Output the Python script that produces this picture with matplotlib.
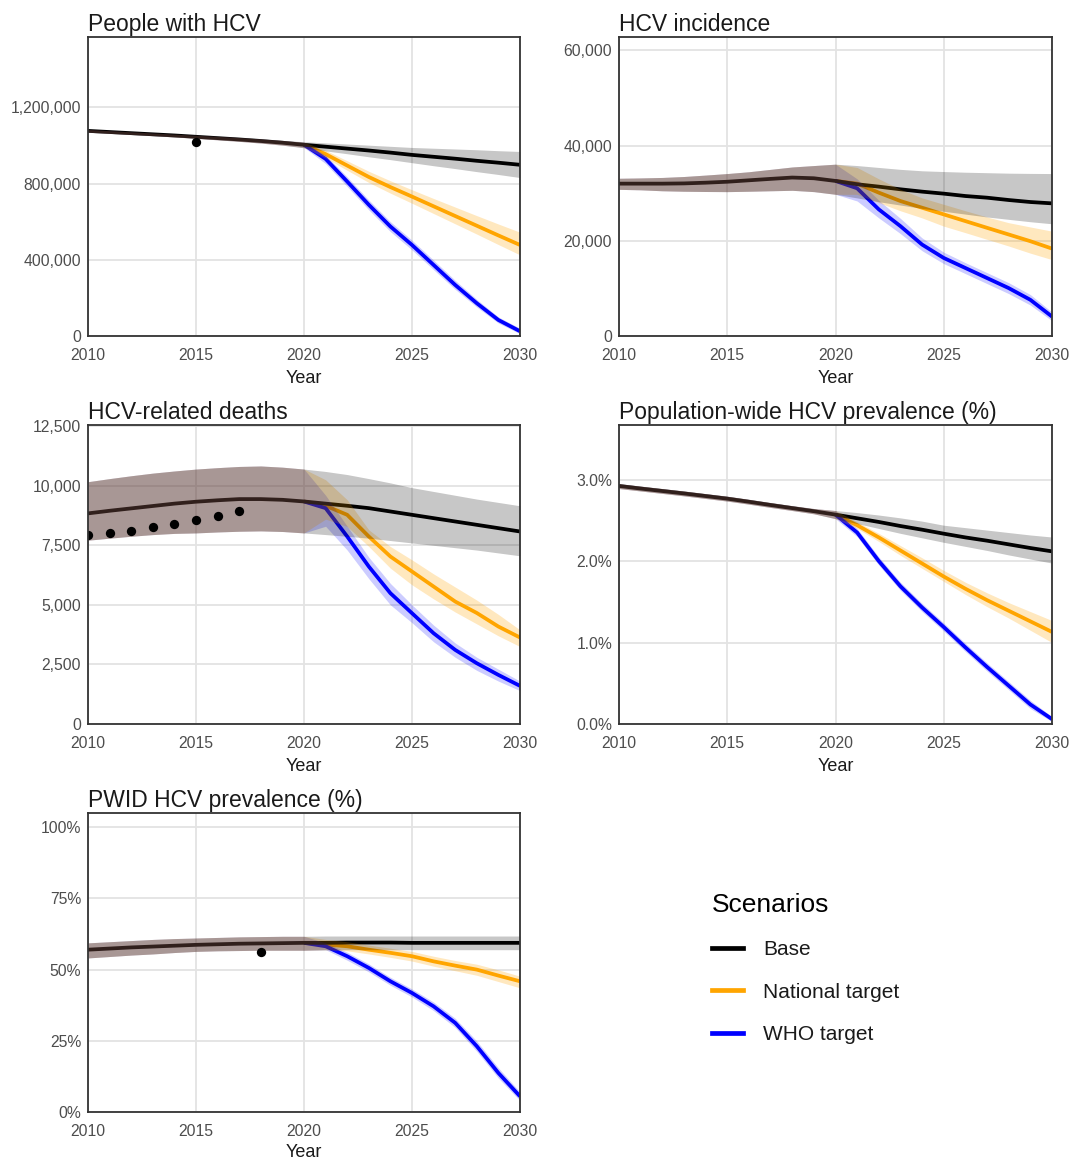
import numpy as np
import matplotlib
matplotlib.use("Agg")
import matplotlib.pyplot as plt
from matplotlib.lines import Line2D
from matplotlib.ticker import FuncFormatter

plt.rcParams["font.family"] = ["Liberation Sans", "DejaVu Sans"]

# -----------------------------
# Data
# -----------------------------
years = list(range(2010, 2031))
hist_years = years[:10]          # 2010-2019, all scenarios identical
proj_years = years[10:]          # 2020-2030

# People with HCV
people_base = [1077e3, 1071e3, 1065e3, 1059e3, 1053e3, 1046e3, 1039e3, 1032e3, 1024e3, 1015e3,
               1004e3, 994e3, 984e3, 974e3, 963e3, 951e3, 941e3, 931e3, 920e3, 910e3, 899e3]
people_base_lo = [1070e3, 1064e3, 1058e3, 1052e3, 1045e3, 1038e3, 1030e3, 1022e3, 1013e3, 1002e3,
                  988e3, 972e3, 957e3, 941e3, 926e3, 910e3, 894e3, 879e3, 863e3, 848e3, 832e3]
people_base_hi = [1084e3, 1078e3, 1072e3, 1066e3, 1060e3, 1054e3, 1048e3, 1042e3, 1035e3, 1027e3,
                  1020e3, 1014e3, 1008e3, 1002e3, 996e3, 990e3, 986e3, 982e3, 978e3, 973e3, 969e3]
people_nat = [1004e3, 955e3, 895e3, 835e3, 782e3, 732e3, 681e3, 630e3, 579e3, 528e3, 478e3]
people_nat_lo = [990e3, 935e3, 870e3, 806e3, 750e3, 697e3, 643e3, 589e3, 535e3, 480e3, 426e3]
people_nat_hi = [1018e3, 975e3, 920e3, 865e3, 815e3, 768e3, 722e3, 677e3, 632e3, 588e3, 545e3]
people_who = [1004e3, 930e3, 811e3, 689e3, 575e3, 478e3, 373e3, 268e3, 172e3, 84e3, 25e3]
people_who_lo = [990e3, 905e3, 785e3, 662e3, 548e3, 452e3, 348e3, 245e3, 152e3, 68e3, 12e3]
people_who_hi = [1018e3, 950e3, 835e3, 714e3, 600e3, 503e3, 398e3, 292e3, 192e3, 100e3, 40e3]
people_obs_years = [2015]
people_obs = [1018e3]

# HCV incidence
inc_base = [32000, 32000, 32000, 32050, 32200, 32400, 32700, 33000, 33280, 33130,
            32570, 31870, 31370, 30810, 30320, 29900, 29400, 29050, 28560, 28140, 27860]
inc_base_lo = [30800, 30700, 30500, 30400, 30350, 30320, 30400, 30500, 30600, 30320,
               29760, 29000, 28200, 27500, 26800, 26200, 25600, 25000, 24500, 24000, 23570]
inc_base_hi = [33130, 33200, 33300, 33500, 33800, 34120, 34500, 35000, 35500, 35800,
               36090, 35800, 35400, 35000, 34700, 34540, 34400, 34300, 34200, 34150, 34120]
inc_nat = [32570, 32010, 30110, 28350, 26940, 25540, 24130, 22720, 21320, 19910, 18360]
inc_nat_lo = [29760, 29760, 28000, 26300, 24800, 23070, 21700, 20300, 18900, 17400, 16040]
inc_nat_hi = [36090, 35390, 33000, 30800, 29000, 27650, 26300, 25000, 23800, 22900, 22020]
inc_who = [32570, 31020, 26590, 23070, 19200, 16390, 14280, 12170, 10060, 7600, 4080]
inc_who_lo = [29760, 28350, 24800, 21500, 17900, 15200, 13100, 11000, 8900, 6500, 3200]
inc_who_hi = [36090, 33000, 28500, 24700, 20600, 17600, 15400, 13300, 11200, 8700, 5000]

# HCV-related deaths
death_base = [8840, 8950, 9050, 9150, 9250, 9330, 9390, 9440, 9440, 9410,
              9340, 9250, 9160, 9060, 8920, 8780, 8640, 8500, 8360, 8220, 8080]
death_base_lo = [7715, 7800, 7880, 7950, 8000, 8020, 8060, 8090, 8105, 8080,
                 8020, 7950, 7880, 7800, 7700, 7600, 7500, 7400, 7300, 7180, 7060]
death_base_hi = [10170, 10300, 10420, 10530, 10620, 10700, 10760, 10810, 10830, 10780,
                 10700, 10600, 10470, 10300, 10120, 9920, 9760, 9600, 9440, 9300, 9160]
death_nat = [9340, 9160, 8780, 7870, 7030, 6400, 5770, 5140, 4660, 4090, 3630]
death_nat_lo = [8020, 8600, 8290, 7450, 6540, 5840, 5250, 4700, 4200, 3700, 3250]
death_nat_hi = [10700, 10250, 9410, 8150, 7450, 6890, 6300, 5750, 5200, 4600, 3950]
death_who = [9340, 9060, 7870, 6610, 5490, 4650, 3810, 3110, 2550, 2060, 1600]
death_who_lo = [8020, 8300, 7300, 6100, 5000, 4250, 3450, 2800, 2250, 1800, 1400]
death_who_hi = [10700, 9600, 8300, 7000, 5900, 5000, 4150, 3400, 2800, 2300, 1800]
death_obs_years = [2010, 2011, 2012, 2013, 2014, 2015, 2016, 2017]
death_obs = [7925, 8020, 8110, 8250, 8390, 8560, 8740, 8950]

# Population-wide HCV prevalence (%)
pop_base = [2.922, 2.890, 2.860, 2.830, 2.798, 2.766, 2.728, 2.688, 2.650, 2.612,
            2.570, 2.525, 2.480, 2.430, 2.385, 2.336, 2.290, 2.250, 2.205, 2.160, 2.119]
pop_base_lo = [2.890, 2.860, 2.830, 2.800, 2.768, 2.736, 2.698, 2.658, 2.620, 2.580,
               2.520, 2.460, 2.400, 2.340, 2.285, 2.230, 2.180, 2.130, 2.075, 2.025, 1.975]
pop_base_hi = [2.950, 2.920, 2.890, 2.860, 2.828, 2.796, 2.758, 2.718, 2.680, 2.645,
               2.620, 2.595, 2.565, 2.530, 2.490, 2.440, 2.410, 2.380, 2.350, 2.320, 2.295]
pop_nat = [2.57, 2.44, 2.29, 2.13, 1.97, 1.81, 1.66, 1.52, 1.39, 1.26, 1.13]
pop_nat_lo = [2.52, 2.40, 2.24, 2.07, 1.91, 1.75, 1.59, 1.44, 1.30, 1.15, 1.00]
pop_nat_hi = [2.62, 2.48, 2.34, 2.19, 2.04, 1.885, 1.74, 1.61, 1.49, 1.38, 1.27]
pop_who = [2.57, 2.35, 2.00, 1.69, 1.43, 1.19, 0.94, 0.70, 0.47, 0.24, 0.06]
pop_who_lo = [2.52, 2.30, 1.95, 1.64, 1.38, 1.14, 0.89, 0.65, 0.42, 0.19, 0.03]
pop_who_hi = [2.62, 2.40, 2.05, 1.74, 1.48, 1.24, 0.99, 0.75, 0.52, 0.29, 0.09]

# PWID HCV prevalence (%)
pwid_base = [57.0, 57.4, 57.8, 58.1, 58.4, 58.7, 58.9, 59.1, 59.2, 59.3,
             59.4, 59.4, 59.5, 59.5, 59.5, 59.4, 59.4, 59.4, 59.4, 59.4, 59.4]
pwid_base_lo = [54.1, 54.6, 55.1, 55.5, 56.0, 56.4, 56.6, 56.7, 56.8, 56.8,
                56.8, 56.9, 57.0, 57.0, 57.0, 57.0, 57.0, 57.0, 57.0, 57.0, 57.0]
pwid_base_hi = [59.4, 59.8, 60.2, 60.6, 60.9, 61.1, 61.3, 61.5, 61.6, 61.7,
                61.7, 61.8, 61.8, 61.8, 61.8, 61.8, 61.8, 61.8, 61.8, 61.8, 61.8]
pwid_nat = [59.4, 58.8, 58.2, 57.0, 55.9, 54.7, 52.9, 51.4, 50.0, 47.9, 45.9]
pwid_nat_lo = [56.8, 57.0, 56.6, 55.5, 54.3, 53.0, 51.2, 49.6, 48.0, 45.8, 43.6]
pwid_nat_hi = [61.7, 60.6, 59.8, 58.6, 57.5, 56.4, 54.7, 53.2, 51.9, 49.9, 47.7]
pwid_who = [59.4, 58.2, 54.7, 50.6, 45.9, 41.8, 37.1, 31.3, 23.1, 13.7, 5.5]
pwid_who_lo = [56.8, 57.0, 53.3, 49.2, 44.5, 40.4, 35.6, 29.7, 21.3, 11.9, 4.0]
pwid_who_hi = [61.7, 59.4, 56.1, 52.0, 47.3, 43.2, 38.6, 32.9, 24.9, 15.5, 7.0]
pwid_obs_years = [2018]
pwid_obs = [56.1]

scenario_names = ["Base", "National target", "WHO target"]
scenario_colors = ["black", "#FFA500", "#0000FF"]

# -----------------------------
# Drawing helper
# -----------------------------
TICK_COLOR = "#4d4d4d"


def draw_panel(ax, title, base, base_lo, base_hi, nat, nat_lo, nat_hi,
               who, who_lo, who_hi, ylim, yticks, fmt, obs_x=None, obs_y=None):
    # scenario lines (national / WHO start at 2020), base on top of them
    ax.plot(proj_years, nat, color=scenario_colors[1], lw=2.7, zorder=2,
            solid_capstyle="butt", solid_joinstyle="round")
    ax.plot(proj_years, who, color=scenario_colors[2], lw=2.7, zorder=2,
            solid_capstyle="butt", solid_joinstyle="round")
    ax.plot(years, base, color=scenario_colors[0], lw=2.7, zorder=2.1,
            solid_capstyle="butt", solid_joinstyle="round")

    # ribbons drawn over the lines, same history before 2020
    ax.fill_between(years, base_lo[:10] + who_lo, base_hi[:10] + who_hi,
                    color=scenario_colors[2], alpha=0.2, lw=0, zorder=3)
    ax.fill_between(years, base_lo[:10] + nat_lo, base_hi[:10] + nat_hi,
                    color=scenario_colors[1], alpha=0.25, lw=0, zorder=3)
    ax.fill_between(years, base_lo, base_hi, color="black", alpha=0.22,
                    lw=0, zorder=3)

    if obs_x is not None:
        ax.scatter(obs_x, obs_y, s=45, color="black", zorder=4, lw=0)

    ax.set_xlim(2010, 2030)
    ax.set_ylim(*ylim)
    ax.set_xticks([2010, 2015, 2020, 2025, 2030])
    ax.set_yticks(yticks)
    ax.yaxis.set_major_formatter(FuncFormatter(fmt))
    ax.grid(True, color="#e3e3e3", lw=1.3, zorder=0)
    ax.set_axisbelow(True)
    ax.tick_params(length=0, labelsize=11.3, colors=TICK_COLOR)
    ax.tick_params(axis="x", pad=8.5)
    ax.tick_params(axis="y", pad=5)
    for s in ax.spines.values():
        s.set_color("#333333")
        s.set_linewidth(1.3)
        s.set_zorder(5)
    ax.set_xlabel("Year", fontsize=13, color="#1a1a1a", labelpad=5.5)
    ax.set_title(title, loc="left", fontsize=16.5, pad=4.5, color="#1a1a1a")


fig = plt.figure(figsize=(10.71, 11.61), dpi=100)
W, H = 1071, 1161


def add_ax(left, top, right, bottom):
    return fig.add_axes([left / W, 1 - bottom / H, (right - left) / W,
                         (bottom - top) / H])


ax1 = add_ax(88, 37, 520, 336)
ax2 = add_ax(619, 37, 1052, 336)
ax3 = add_ax(88, 425, 520, 724)
ax4 = add_ax(619, 425, 1052, 724)
ax5 = add_ax(88, 813, 520, 1112)

comma = lambda v, p: f"{v:,.0f}"

draw_panel(ax1, "People with HCV", people_base, people_base_lo, people_base_hi,
           people_nat, people_nat_lo, people_nat_hi,
           people_who, people_who_lo, people_who_hi,
           (0, 1.57e6), [0, 400000, 800000, 1200000], comma,
           people_obs_years, people_obs)

draw_panel(ax2, "HCV incidence", inc_base, inc_base_lo, inc_base_hi,
           inc_nat, inc_nat_lo, inc_nat_hi, inc_who, inc_who_lo, inc_who_hi,
           (0, 62800), [0, 20000, 40000, 60000], comma)

draw_panel(ax3, "HCV-related deaths", death_base, death_base_lo, death_base_hi,
           death_nat, death_nat_lo, death_nat_hi,
           death_who, death_who_lo, death_who_hi,
           (0, 12550), [0, 2500, 5000, 7500, 10000, 12500], comma,
           death_obs_years, death_obs)

draw_panel(ax4, "Population-wide HCV prevalence (%)", pop_base, pop_base_lo,
           pop_base_hi, pop_nat, pop_nat_lo, pop_nat_hi,
           pop_who, pop_who_lo, pop_who_hi,
           (0, 3.67), [0, 1, 2, 3], lambda v, p: f"{v:.1f}%")

draw_panel(ax5, "PWID HCV prevalence (%)", pwid_base, pwid_base_lo, pwid_base_hi,
           pwid_nat, pwid_nat_lo, pwid_nat_hi,
           pwid_who, pwid_who_lo, pwid_who_hi,
           (0, 105), [0, 25, 50, 75, 100], lambda v, p: f"{v:.0f}%",
           pwid_obs_years, pwid_obs)
# bottom panel's axis title sits a touch higher so it stays inside the figure
ax5.xaxis.labelpad = 4

# -----------------------------
# Legend
# -----------------------------
handles = [Line2D([0], [0], color=c, lw=3.4) for c in scenario_colors]
leg = fig.legend(handles, scenario_names, title="Scenarios",
                 loc="upper left", bbox_to_anchor=(712 / W, 1 - 893 / H),
                 frameon=False, fontsize=15, title_fontsize=19,
                 handlelength=1.5, handletextpad=0.95, labelspacing=1.12,
                 borderpad=0, borderaxespad=0, alignment="left")
for t in leg.get_texts():
    t.set_color("#1a1a1a")

fig.savefig("out.png", dpi=100)
